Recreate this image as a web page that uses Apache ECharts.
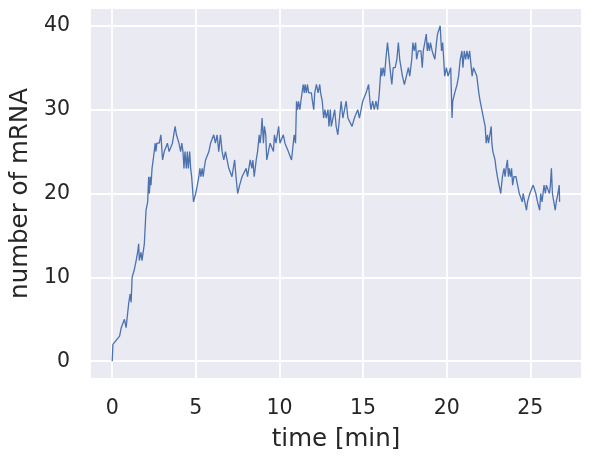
<!DOCTYPE html>
<html>
<head>
<meta charset="utf-8">
<script src="https://cdn.jsdelivr.net/npm/echarts@6/dist/echarts.min.js"></script>
<style>
  html, body { margin: 0; padding: 0; background: #fff; }
  #chart { width: 592px; height: 459px; }
</style>
</head>
<body>
<div id="chart"></div>
<script>
const times = [
  0, 0.04, 0.44, 0.54, 0.73, 0.83, 0.99, 1.07, 1.13, 1.19, 1.33, 1.43, 1.52, 1.58, 1.62, 1.72, 1.78, 1.92,
  2.02, 2.12, 2.18, 2.22, 2.28, 2.32, 2.38, 2.45, 2.57, 2.61, 2.67, 2.81, 2.91, 3.01, 3.11, 3.30, 3.40, 3.50,
  3.60, 3.70, 3.76, 3.84, 3.99, 4.09, 4.16, 4.23, 4.29, 4.35, 4.43, 4.49, 4.55, 4.63, 4.69, 4.75, 4.86, 4.99,
  5.09, 5.18, 5.24, 5.30, 5.38, 5.44, 5.50, 5.58, 5.68, 5.78, 5.88, 5.97, 6.07, 6.17, 6.27, 6.37, 6.47,
  6.51, 6.57, 6.67, 6.77, 6.87, 6.97, 7.16, 7.26, 7.32, 7.40, 7.50, 7.62, 7.76, 7.86, 8.01, 8.09, 8.25, 8.35,
  8.41, 8.49, 8.61, 8.69, 8.79, 8.84, 8.90, 8.96, 9.04, 9.10, 9.18, 9.24, 9.34, 9.44, 9.54, 9.64, 9.70, 9.79,
  9.87, 9.95, 10.03, 10.23, 10.33, 10.43, 10.53, 10.72, 10.82, 10.88, 10.96, 11.02, 11.08, 11.14, 11.22,
  11.28, 11.34, 11.42, 11.48, 11.53, 11.61, 11.67, 11.75, 11.81, 11.91, 11.97, 12.05, 12.11, 12.21, 12.31,
  12.41, 12.46, 12.56, 12.64, 12.72, 12.80, 12.90, 12.96, 13.04, 13.10, 13.20, 13.30, 13.39, 13.49, 13.59,
  13.69, 13.79, 13.89, 13.99, 14.09, 14.19, 14.34, 14.48, 14.58, 14.68, 14.78, 14.88, 14.98, 15.08, 15.18,
  15.33, 15.41, 15.47, 15.57, 15.67, 15.77, 15.87, 15.97, 16.07, 16.12, 16.20, 16.28, 16.36, 16.46, 16.56,
  16.66, 16.72, 16.80, 16.92, 17.02, 17.11, 17.19, 17.27, 17.35, 17.47, 17.59, 17.71, 17.79, 17.91, 17.98,
  18.06, 18.14, 18.20, 18.30, 18.38, 18.46, 18.54, 18.60, 18.70, 18.78, 18.84, 18.89, 18.97, 19.03, 19.13,
  19.23, 19.29, 19.39, 19.45, 19.53, 19.61, 19.69, 19.76, 19.88, 19.98, 20.08, 20.16, 20.24, 20.32, 20.36,
  20.48, 20.62, 20.71, 20.81, 20.91, 20.97, 21.05, 21.13, 21.21, 21.29, 21.37, 21.45, 21.52, 21.60, 21.70,
  21.80, 21.86, 21.92, 22.00, 22.10, 22.20, 22.30, 22.36, 22.44, 22.50, 22.58, 22.66, 22.70, 22.76, 22.83,
  22.89, 22.95, 23.03, 23.13, 23.23, 23.33, 23.43, 23.49, 23.55, 23.63, 23.69, 23.74, 23.82, 23.88, 23.94,
  24.02, 24.14, 24.24, 24.34, 24.44, 24.52, 24.57, 24.67, 24.77, 24.83, 24.97, 25.07, 25.17, 25.23, 25.33,
  25.43, 25.50, 25.56, 25.62, 25.70, 25.76, 25.82, 25.90, 25.96, 26.06, 26.14, 26.20, 26.26, 26.32, 26.39,
  26.49, 26.55, 26.65, 26.73, 26.75
];
const counts = [
  0, 2, 3, 4, 5, 4, 7, 8, 7, 10, 11, 12, 13, 14, 12, 13, 12, 14,
  18, 19, 22, 20, 22, 21, 23, 24, 26, 25, 26, 26, 27, 24, 25, 26, 25, 25,
  26, 26, 28, 27, 26, 25, 26, 25, 23, 25, 23, 25, 23, 25, 23, 22, 19, 20,
  21, 22, 23, 22, 23, 22, 23, 24, 24, 25, 26, 26, 27, 26, 27, 25, 27,
  27, 25, 24, 25, 25, 23, 22, 22, 24, 22, 20, 21, 22, 22, 23, 22, 24, 23,
  24, 22, 24, 25, 27, 26, 27, 29, 26, 28, 27, 24, 25, 26, 26, 25, 27, 26,
  27, 28, 26, 27, 26, 26, 25, 24, 24, 27, 26, 31, 30, 31, 30,
  31, 31, 33, 32, 33, 32, 33, 32, 32, 32, 31, 30, 32, 33, 32,
  33, 32, 31, 29, 30, 29, 30, 28, 30, 28, 29, 30, 28, 27, 29,
  31, 29, 30, 31, 29, 29, 28, 29, 29, 30, 29, 30, 31, 31, 32,
  33, 31, 30, 31, 30, 31, 30, 32, 35, 34, 35, 34, 36, 38, 36,
  34, 33, 35, 35, 36, 38, 36, 36, 34, 33, 34, 35, 34, 36, 38,
  37, 38, 36, 37, 37, 37, 35, 37, 37, 39, 37, 38, 37, 38, 37,
  37, 36, 38, 39, 39, 40, 37, 38, 34, 35, 34, 34, 35, 29, 31,
  32, 33, 34, 36, 37, 35, 37, 36, 37, 36, 37, 37, 34, 35, 35,
  34, 34, 32, 31, 30, 29, 28, 26, 27, 26, 27, 28, 26, 25, 25,
  24, 23, 22, 22, 20, 22, 23, 22, 23, 24, 22, 23, 22, 23, 21,
  22, 22, 21, 20, 20, 19, 20, 19, 18, 19, 20, 20, 21, 21, 20,
  19, 19, 18, 20, 19, 20, 21, 20, 21, 21, 20, 21, 23, 20, 20,
  18, 19, 20, 21, 19
];
const xTicks = [0, 5, 10, 15, 20, 25];
const yTicks = [0, 10, 20, 30, 40];

const chart = echarts.init(document.getElementById("chart"), null, { renderer: "canvas" });

const textColor = "#262626";
const font = "DejaVu Sans";

const option = {
  animation: false,
  grid: {
    left: 88,
    right: 11,
    top: 9,
    bottom: 81,
    show: true,
    backgroundColor: "#EAEAF2",
    borderWidth: 0
  },
  xAxis: {
    type: "value",
    min: -1.27,
    max: 28.03,
    name: "time [min]",
    nameLocation: "middle",
    nameGap: 49,
    nameTextStyle: { fontSize: 24.5, color: textColor, fontFamily: font },
    axisLine: { show: false },
    axisTick: { show: false, customValues: xTicks },
    axisLabel: {
      customValues: xTicks,
      fontSize: 20.5,
      color: textColor,
      fontFamily: font,
      margin: 20
    },
    splitLine: { show: true, lineStyle: { color: "#ffffff", width: 1.8 } }
  },
  yAxis: {
    type: "value",
    min: -2,
    max: 42,
    name: "number of mRNA",
    nameLocation: "middle",
    nameGap: 52,
    nameTextStyle: { fontSize: 24.5, color: textColor, fontFamily: font },
    axisLine: { show: false },
    axisTick: { show: false, customValues: yTicks },
    axisLabel: {
      customValues: yTicks,
      fontSize: 20.5,
      color: textColor,
      fontFamily: font,
      margin: 21,
      padding: [8, 0, 0, 0]
    },
    splitLine: { show: true, lineStyle: { color: "#ffffff", width: 1.8 } }
  },
  series: [
    {
      type: "line",
      data: times.map((t, i) => [t, counts[i]]),
      showSymbol: false,
      lineStyle: { color: "#4C72B0", width: 1.3 }
    }
  ]
};

chart.setOption(option);
</script>
</body>
</html>
